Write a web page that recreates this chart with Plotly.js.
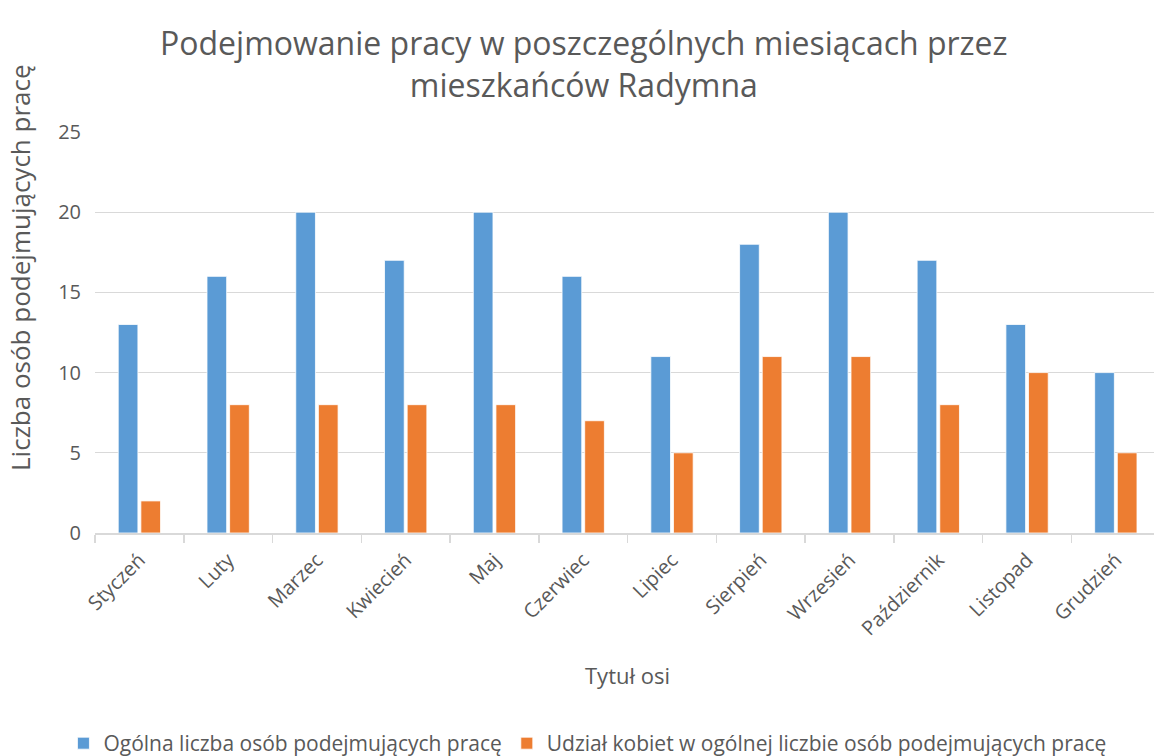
<!DOCTYPE html>
<html>
<head>
<meta charset="utf-8">
<script src="https://cdn.plot.ly/plotly-3.0.1.min.js"></script>
<style>html,body{margin:0;padding:0;background:#fff;}#chart{width:1154px;height:756px;}</style>
</head>
<body>
<div id="chart"></div>
<script>
const months = ["Styczeń","Luty","Marzec","Kwiecień","Maj","Czerwiec","Lipiec","Sierpień","Wrzesień","Październik","Listopad","Grudzień"];
const totalWorkers = [13,16,20,17,20,16,11,18,20,17,13,10];
const womenWorkers = [2,8,8,8,8,7,5,11,11,8,10,5];
const seriesNames = ["Ogólna liczba osób podejmujących pracę","Udział kobiet w ogólnej liczbie osób podejmujących pracę"];
const yTicks = [0,5,10,15,20,25];
const chartTitle = "Podejmowanie pracy w poszczególnych miesiącach przez<br>mieszkańców Radymna";
const xTitle = "Tytuł osi";
const yTitle = "Liczba osób podejmujących pracę";

const FONT = "'Open Sans', sans-serif";
const TXT = "#595959";

const traces = [
  {type:"bar", x:months, y:totalWorkers, name:seriesNames[0],
   marker:{color:"#5B9BD5", line:{color:"#FFFFFF", width:0.8}}},
  {type:"bar", x:months, y:womenWorkers, name:seriesNames[1],
   marker:{color:"#ED7D31", line:{color:"#FFFFFF", width:0.8}}}
];

const layout = {
  width:1154, height:756,
  paper_bgcolor:"#fff", plot_bgcolor:"#fff",
  font:{family:FONT, color:TXT, size:18},
  margin:{l:95, r:0, t:132, b:223, autoexpand:false},
  barmode:"group", bargap:0.49, bargroupgap:0.13,
  xaxis:{type:"category", range:[-0.5, 11.43], tickangle:-45, showline:true, linecolor:"#D9D9D9", linewidth:1.5,
         ticks:"outside", tickson:"boundaries", ticklen:8, tickcolor:"#D9D9D9", tickwidth:1.5,
         tickfont:{size:20, color:TXT}, showgrid:false, fixedrange:true, ticklabelstandoff:6},
  yaxis:{range:[0,25], tickvals:yTicks, ticktext:yTicks.map(String), showgrid:true, gridcolor:"#D9D9D9", gridwidth:1.3,
         zeroline:false, showline:false, ticks:"", tickfont:{size:20, color:TXT}, ticklabelstandoff:13},
  legend:{orientation:"h", x:0.465, xanchor:"center", y:-0.525, yanchor:"middle", font:{size:21, color:TXT},
          itemwidth:30, tracegroupgap:0},
  annotations:[
    {text:chartTitle, xref:"paper", yref:"paper", x:0.462, y:1.172, xanchor:"center", yanchor:"middle",
     showarrow:false, font:{size:32, color:TXT, family:FONT}},
    {text:yTitle, textangle:-90, xref:"paper", yref:"paper",
     x:-0.071, y:0.663, xanchor:"center", yanchor:"middle", showarrow:false,
     font:{size:26, color:TXT, family:FONT}},
    {text:xTitle, xref:"paper", yref:"paper", x:0.503, y:-0.354, xanchor:"center", yanchor:"middle",
     showarrow:false, font:{size:22, color:TXT, family:FONT}}
  ],
  showlegend:true
};

Plotly.newPlot("chart", traces, layout, {displayModeBar:false, staticPlot:true});
</script>
</body>
</html>
